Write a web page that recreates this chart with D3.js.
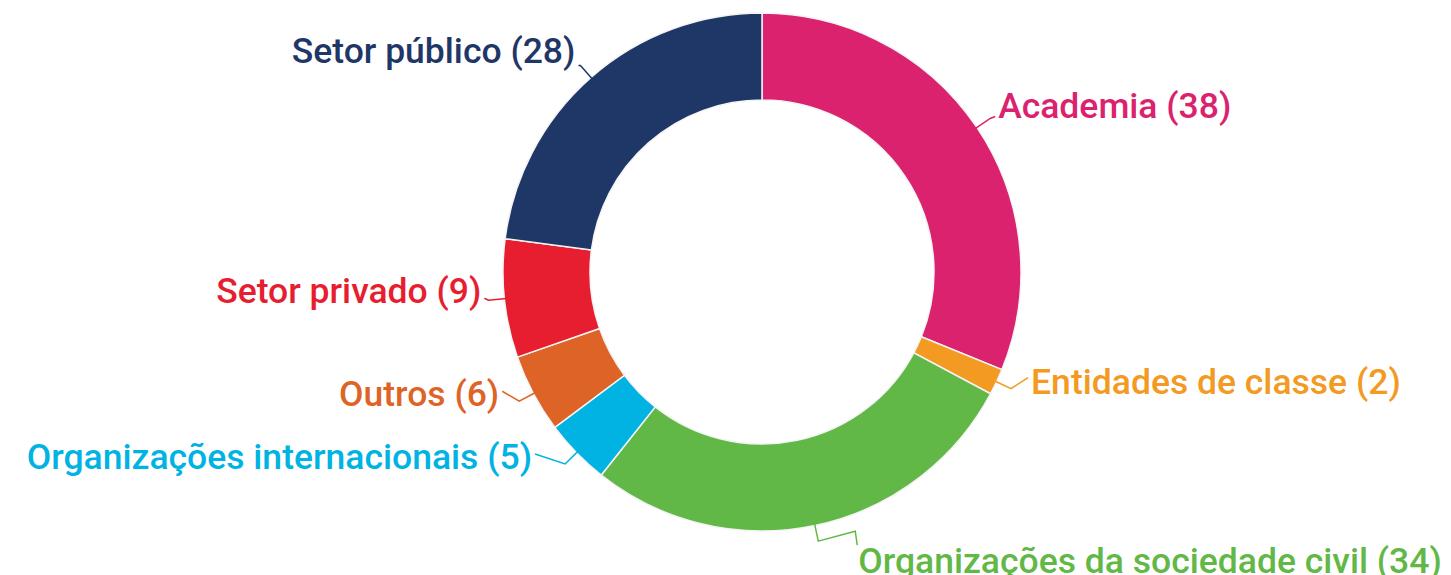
<!DOCTYPE html>
<html><head><meta charset="utf-8">
<script src="https://cdn.jsdelivr.net/npm/d3@7"></script>
<style>html,body{margin:0;padding:0;background:#fff;}svg{display:block;}</style>
</head><body>
<svg id="chart" width="1451" height="575"></svg>
<script>
// ---- data ----
const categories = ["Academia", "Entidades de classe", "Organizações da sociedade civil", "Organizações internacionais", "Outros", "Setor privado", "Setor público"];
const values = [38, 2, 34, 5, 6, 9, 28];
const colors = ["#DB226E", "#F29A22", "#62B847", "#00B3E3", "#DD6426", "#E61E2F", "#1F3766"];

// ---- label layout tweaks (style, not data) ----
const elbowLen = [5, 17, 37, -30, -17, -4, -2];
const elbowDy  = [-2, -11, -10, -10, -10, -2, 0];
const dropLen  = [0, 0, 14, 0, 0, 0, 0];
const textDy   = [0, 5, 32, 5, 5, 3, -2];

const W = 1451, H = 575;
const cx = 762, cy = 272, R = 259, r = 172, ext = 16;

const svg = d3.select("#chart");
const g = svg.append("g").attr("transform", `translate(${cx},${cy})`);

const pie = d3.pie().sort(null).value(d => d.v);
const data = categories.map((c, i) => ({c, v: values[i], i}));
const arcs = pie(data);
const arc = d3.arc().innerRadius(r).outerRadius(R);

g.selectAll("path.slice").data(arcs).join("path")
  .attr("class", "slice")
  .attr("d", arc)
  .attr("fill", d => colors[d.data.i])
  .attr("stroke", "#f4f4f4")
  .attr("stroke-width", 1.5);

const pt = (a, rad) => [rad * Math.sin(a), -rad * Math.cos(a)];

arcs.forEach(d => {
  const i = d.data.i;
  const a = (d.startAngle + d.endAngle) / 2;
  const p0 = pt(a, R - 2);
  const p1 = pt(a, R + ext);
  const p2 = [p1[0] + elbowLen[i], p1[1] + elbowDy[i]];
  const pts = [p0, p1, p2];
  if (dropLen[i]) pts.push([p2[0] + 2, p2[1] + dropLen[i]]);
  const right = Math.sin(a) > 0;
  g.append("path")
    .attr("d", d3.line()(pts))
    .attr("fill", "none")
    .attr("stroke", colors[i])
    .attr("stroke-width", 1.5);
  g.append("text")
    .attr("x", p2[0] + (right ? 3 : -3))
    .attr("y", p1[1] + textDy[i])
    .attr("text-anchor", right ? "start" : "end")
    .attr("fill", colors[i])
    .style("font-family", "Roboto, 'Noto Sans', sans-serif")
    .style("font-size", "35.5px")
    .style("font-weight", 500)
    .text(`${d.data.c} (${d.data.v})`);
});
</script>
</body></html>
